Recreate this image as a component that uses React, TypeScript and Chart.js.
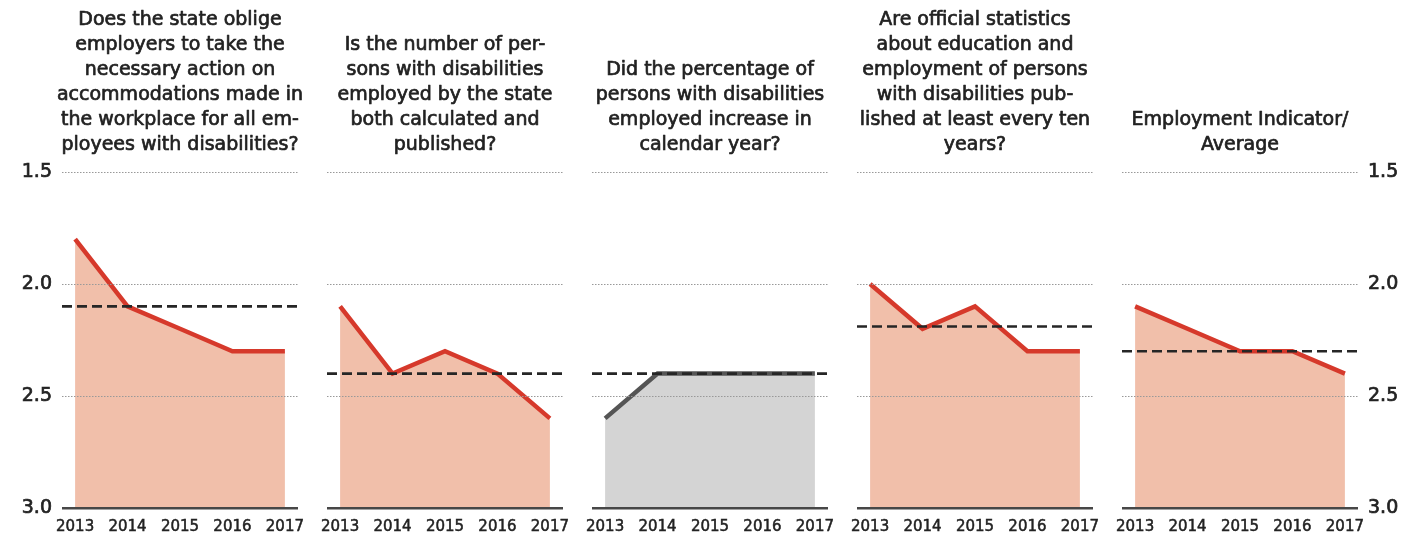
import React, { useEffect, useRef } from 'react';
import { Chart, registerables } from 'chart.js';

Chart.register(...registerables);

// ---------- data ----------
const years = [2013, 2014, 2015, 2016, 2017];
const yTickValues = [1.5, 2.0, 2.5, 3.0];

const titles: string[][] = [
  ['Does the state oblige', 'employers to take the', 'necessary action on', 'accommodations made in', 'the workplace for all em-', 'ployees with disabilities?'],
  ['Is the number of per-', 'sons with disabilities', 'employed by the state', 'both calculated and', 'published?'],
  ['Did the percentage of', 'persons with disabilities', 'employed increase in', 'calendar year?'],
  ['Are official statistics', 'about education and', 'employment of persons', 'with disabilities pub-', 'lished at least every ten', 'years?'],
  ['Employment Indicator/', 'Average'],
];

const accommodationValues = [1.8, 2.1, 2.2, 2.3, 2.3];
const calculatedPublishedValues = [2.1, 2.4, 2.3, 2.4, 2.6];
const percentageIncreaseValues = [2.6, 2.4, 2.4, 2.4, 2.4];
const officialStatisticsValues = [2.0, 2.2, 2.1, 2.3, 2.3];
const employmentIndicatorValues = [2.1, 2.2, 2.3, 2.3, 2.4];
const averageValues = [2.1, 2.4, 2.4, 2.19, 2.3];

const seriesList = [
  accommodationValues,
  calculatedPublishedValues,
  percentageIncreaseValues,
  officialStatisticsValues,
  employmentIndicatorValues,
];

// ---------- styles ----------
const X_MIN = 2012.75;
const X_MAX = 2017.25;
const Y_MIN = 1.5;
const Y_MAX = 3.0;
const FONT = 'DejaVu Sans';
const TEXT = '#222222';
const RED_LINE = '#d6392b';
const RED_FILL = '#f1bfaa';
const GRAY_LINE = '#555555';
const GRAY_FILL = '#d4d4d4';
const PANEL_STEP = 265;
const AXIS_W = 62;
const CANVAS_W = 360;
const CANVAS_H = 537;
const TITLE_LINES = 6;
const TITLE_LINE_H = 25;
const TITLE_FIRST_Y = 20.5;
const CHART_TOP = 172;

const titlePlugin = {
  id: 'panelTitle',
  afterDraw(chart: any, _args: any, opts: any) {
    const lines: string[] = opts.lines || [];
    const ctx = chart.ctx;
    ctx.save();
    ctx.font = `19px "${FONT}"`;
    ctx.textAlign = 'center';
    ctx.textBaseline = 'middle';
    ctx.fillStyle = TEXT;
    ctx.strokeStyle = TEXT;
    ctx.lineWidth = 0.7;
    ctx.lineJoin = 'round';
    const cx = (chart.chartArea.left + chart.chartArea.right) / 2;
    const offset = TITLE_LINES - lines.length;
    lines.forEach((line, k) => {
      const y = TITLE_FIRST_Y + (offset + k) * TITLE_LINE_H;
      ctx.fillText(line, cx, y);
      ctx.strokeText(line, cx, y);
    });
    ctx.restore();
  },
};

function Panel({ index }: { index: number }) {
  const ref = useRef<HTMLCanvasElement>(null);

  useEffect(() => {
    const canvas = ref.current;
    if (!canvas) return;
    const gray = index === 2;
    const showLeft = index === 0;
    const showRight = index === seriesList.length - 1;
    const values = seriesList[index];

    const yCommon = (show: boolean, pos: 'left' | 'right', withGrid: boolean) => ({
      type: 'linear' as const,
      position: pos,
      reverse: true,
      min: Y_MIN,
      max: Y_MAX,
      afterBuildTicks: (s: any) => {
        s.ticks = yTickValues.map((v) => ({ value: v }));
      },
      afterFit: (s: any) => {
        s.width = AXIS_W;
      },
      ticks: {
        display: show,
        padding: 10,
        color: TEXT,
        textStrokeColor: TEXT,
        textStrokeWidth: 0.7,
        font: { family: FONT, size: 19 },
        callback: (v: any) => Number(v).toFixed(1),
      },
      grid: withGrid
        ? {
            z: 1,
            drawTicks: false,
            color: (ctx: any) => (ctx.tick && ctx.tick.value === Y_MAX ? '#474747' : '#999999'),
            lineWidth: (ctx: any) => (ctx.tick && ctx.tick.value === Y_MAX ? 2.5 : 1),
          }
        : { display: false, drawTicks: false },
      border: {
        display: false,
        dash: (ctx: any) => (ctx.tick && ctx.tick.value === Y_MAX ? [] : [1.5, 1.5]),
      },
    });

    const chart = new Chart(canvas, {
      type: 'line',
      data: {
        datasets: [
          {
            data: [
              { x: X_MIN, y: averageValues[index] },
              { x: X_MAX, y: averageValues[index] },
            ],
            borderColor: '#262626',
            borderWidth: 2.6,
            borderDash: [10, 5],
            pointRadius: 0,
            fill: false,
            order: 0,
          },
          {
            data: years.map((x, i) => ({ x, y: values[i] })),
            borderColor: gray ? GRAY_LINE : RED_LINE,
            backgroundColor: gray ? GRAY_FILL : RED_FILL,
            borderWidth: 4.5,
            pointRadius: 0,
            tension: 0,
            fill: { value: Y_MAX },
            order: 1,
          },
        ],
      },
      options: {
        animation: false,
        responsive: true,
        maintainAspectRatio: false,
        layout: { padding: { top: CHART_TOP } },
        events: [],
        plugins: {
          legend: { display: false },
          tooltip: { enabled: false },
          title: { display: false },
          panelTitle: { lines: titles[index] },
        } as any,
        scales: {
          x: {
            type: 'linear',
            min: X_MIN,
            max: X_MAX,
            afterBuildTicks: (s: any) => {
              s.ticks = years.map((v) => ({ value: v }));
            },
            afterFit: (s: any) => {
              s.height = 29;
            },
            ticks: {
              autoSkip: false,
              maxRotation: 0,
              padding: 10,
              color: TEXT,
              textStrokeColor: TEXT,
              textStrokeWidth: 0.5,
              font: { family: FONT, size: 15 },
              callback: (v: any) => String(v),
            },
            grid: { display: false, drawTicks: false },
            border: { display: false },
          },
          y: yCommon(showLeft, 'left', true) as any,
          yR: yCommon(showRight, 'right', false) as any,
        },
      },
      plugins: [titlePlugin],
    });
    return () => chart.destroy();
  }, [index]);

  return (
    <div
      style={{
        position: 'absolute',
        left: PANEL_STEP * index,
        top: 0,
        width: CANVAS_W,
        height: CANVAS_H,
      }}
    >
      <canvas ref={ref} />
    </div>
  );
}

export default function App() {
  return (
    <div
      style={{
        position: 'absolute',
        left: 0,
        top: 0,
        width: 1419,
        height: 537,
        overflow: 'hidden',
        background: '#ffffff',
      }}
    >
      {seriesList.map((_, i) => (
        <Panel key={i} index={i} />
      ))}
    </div>
  );
}
